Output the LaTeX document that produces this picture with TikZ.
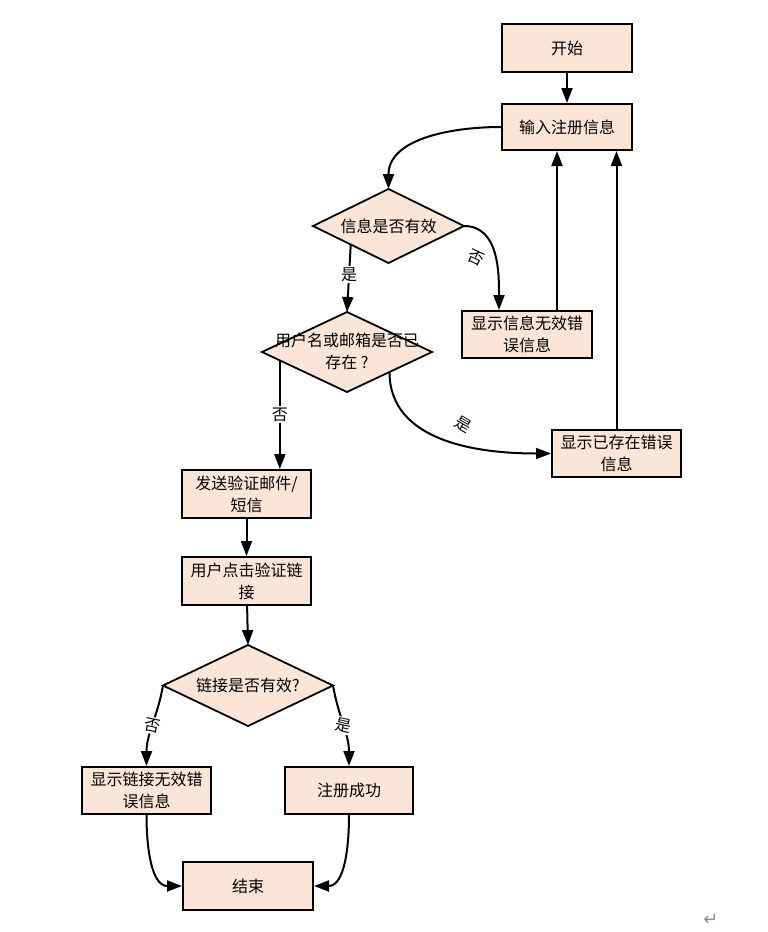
\documentclass[tikz,border=0pt]{standalone}
\usepackage{fontspec}
\newfontfamily\cjk{Noto Sans CJK SC}
\newfontfamily\symfont{DejaVu Sans}
\usetikzlibrary{shapes.geometric,arrows.meta,calc}
\definecolor{boxfill}{HTML}{FBE5D6}
\tikzset{
  every node/.style={font=\cjk\fontsize{16}{22}\selectfont, text=black},
  procbox/.style={draw=black, line width=2pt, fill=boxfill, minimum width=130pt,
    minimum height=47pt, align=center, inner sep=2pt},
  decision/.style={diamond, draw=black, line width=1.8pt, fill=boxfill, inner sep=0pt,
    outer sep=0pt, minimum width=170pt, minimum height=80pt},
  arr/.style={line width=2pt, -{Triangle[length=15pt,width=11pt]}},
  tag/.style={fill=white, inner sep=1.5pt}
}
\begin{document}
\begin{tikzpicture}[x=1pt,y=-1pt]
\useasboundingbox (0,0) rectangle (768,932);

% process boxes
\node[procbox, minimum height=48pt] (start) at (567,48) {开始};
\node[procbox, minimum height=46pt] (input) at (567,127) {输入注册信息};
\node[procbox] (err1) at (527,334.5) {显示信息无效错\\误信息};
\node[procbox, minimum width=129pt] (err2) at (616.5,453.5) {显示已存在错误\\信息};
\node[procbox, minimum width=129pt, minimum height=48pt] (send) at (246.5,494) {发送验证邮件/\\短信};
\node[procbox, minimum width=129pt, minimum height=48pt] (click) at (246.5,581) {用户点击验证链\\接};
\node[procbox, minimum width=129pt] (err3) at (146.5,790.5) {显示链接无效错\\误信息};
\node[procbox, minimum width=128pt] (succ) at (349,790.5) {注册成功};
\node[procbox, minimum height=48pt] (finish) at (248,886) {结束};

% decisions
\node[decision, minimum width=151pt, minimum height=74pt] (d1) at (388.5,226) {};
\node at (d1) {信息是否有效};
\node[decision] (d2) at (347,352) {};
\node[align=center] at ($(d2)+(0,-1)$) {用户名或邮箱是否已\\存在 ?};
\node[decision, minimum height=81pt] (d3) at (248,685.5) {};
\node at (d3) {链接是否有效?};

% connectors
\draw[arr] (start) -- (input);
\draw[arr] (input.west) to[out=180,in=90] (d1.north);
\draw[arr] (d1.east) to[out=0,in=90] ([xshift=-28pt]err1.north);
\node[rotate=-25] at (476,258) {否};
\draw[arr] ([xshift=30pt]err1.north) -- ([xshift=30pt]err1.north |- input.south);
\draw[arr] (err2.north) -- (err2.north |- input.south);

\draw[arr] (d1.south west) -- node[tag, pos=0.45] {是} (d2.north);
\coordinate (d2l) at ($(d2.west)!0.21!(d2.south)$);
\draw[arr] (d2l) -- node[tag, pos=0.5] {否} (d2l |- send.north);
\draw[arr] (d2.south east) to[out=-90,in=180] (err2.west);
\node[rotate=-30] at (463,425) {是};

\draw[arr] (send) -- (click);
\draw[arr] (click) -- (d3.north);
\draw[arr] (d3.west) to[out=-100,in=90] node[tag, rotate=-12, pos=0.5] {否} (err3.north);
\draw[arr] (d3.east) to[out=-80,in=90] node[tag, rotate=-12, pos=0.5] {是} (succ.north);
\draw[arr] (err3.south) to[out=-90,in=180] (finish.west);
\draw[arr] (succ.south) to[out=-90,in=0] (finish.east);

% paragraph mark at the page corner
\node[font=\symfont\fontsize{18}{18}\selectfont, text=black!45] (mark) at (711,920) {↵};
\end{tikzpicture}
\end{document}
